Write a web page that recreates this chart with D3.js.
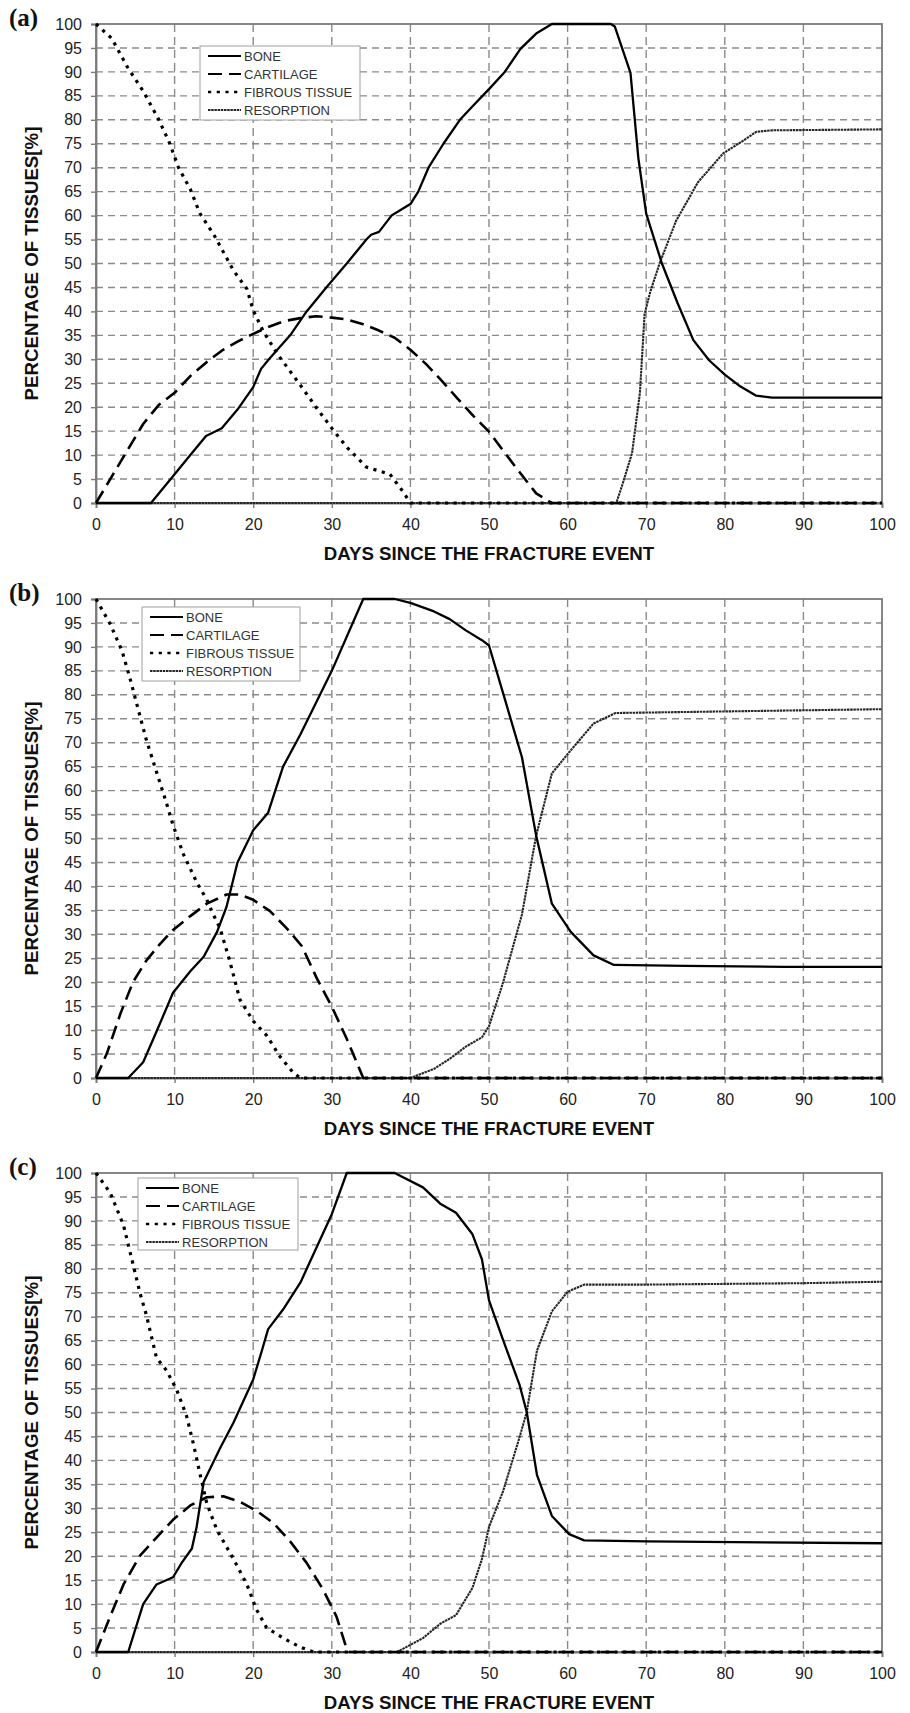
<!DOCTYPE html>
<html>
<head>
<meta charset="utf-8">
<script src="https://cdn.jsdelivr.net/npm/d3@7"></script>
<style>
body { margin: 0; background: #fff; }
svg { display: block; }
</style>
</head>
<body>
<div id="chart"></div>
<script>
// axis ticks and labels
const dayTicks = d3.range(0, 101, 10);
const pctTicks = d3.range(0, 101, 5);
const legendNames = ["BONE", "CARTILAGE", "FIBROUS TISSUE", "RESORPTION"];
const panelNames = ["(a)", "(b)", "(c)"];
const xTitle = "DAYS SINCE THE FRACTURE EVENT";
const yTitle = "PERCENTAGE OF TISSUES[%]";

// panel (a): [day, percent]
const boneA = [[0,0],[7,0],[10,6],[12,10],[14,14],[16,15.6],[18,19.5],[20,24.2],[21,28],[22,30],[24.7,35],[26.8,40],[29.3,45],[31.9,50],[34.4,55],[35,56],[36,56.6],[37.6,60],[40,62.4],[41,65],[42.3,70],[44.2,75],[46.3,80],[48,83],[50,86.4],[52,90],[54,94.8],[56,98],[58,100],[65.5,100],[66,99.5],[68,89.8],[69,72],[70,60.4],[72,50],[74,41.7],[76,34],[78,29.8],[80,26.8],[82,24.3],[84,22.4],[86,22],[100,22]];
const cartA = [[0,0],[2,5.5],[4,11],[6,16.5],[8,20.5],[10,23],[12,26.5],[14,29.3],[16,31.8],[18,33.7],[20,35.3],[22,36.8],[24,38],[26,38.6],[28,39],[30,38.7],[32,38.3],[34,37.3],[36,36],[38,34.5],[40,32],[42,29],[44,25.5],[46,21.8],[48,18.2],[50,14.9],[52,10.5],[54,6.2],[56,2],[58,0],[100,0]];
const fibA = [[0,100],[2,97],[4,91],[6,86],[8,80],[9.4,75],[10.5,70],[12,65.5],[13.2,60.5],[15,56],[17.5,48.5],[19.2,44.7],[20,40.2],[21.3,35.8],[23,31.3],[26,24.6],[28,20],[30,15.6],[32,11.5],[34.4,7.5],[37.4,6],[39,2.5],[40,0],[100,0]];
const resA = [[0,0],[66.2,0],[67,4],[68.2,10.4],[69.2,23],[69.8,39.5],[70.5,44],[71.7,50],[73.8,58.9],[76.6,67],[79.8,73],[82.3,75.6],[84,77.5],[86,77.8],[100,78]];

// panel (b)
const boneB = [[0,0],[4.1,0],[6,3.3],[7.7,9.7],[9.8,17.8],[12,22.3],[13.7,25.3],[15.4,30.5],[16.6,35.7],[18,45],[20,51.7],[21.9,55.4],[23.8,65],[26,71.7],[30,85],[34,100],[38,100],[40,99.2],[43,97.4],[45,95.8],[47,93.5],[49.1,91.4],[50,90.3],[51.8,80.3],[54.2,66.9],[56,50.6],[58,36.4],[60.4,30.5],[63.3,25.6],[65.9,23.6],[75,23.4],[87.5,23.2],[100,23.2]];
const cartB = [[0,0],[1.4,5.2],[3.1,13.4],[4.7,20],[6.4,24.5],[8.1,27.9],[9.8,30.9],[12,33.8],[14.1,36.4],[16.6,38.3],[18.3,38.3],[20,37.2],[22.1,34.9],[24.3,31.2],[26.2,27.5],[28.1,20.8],[30,14.9],[31.9,8.2],[34,0],[100,0]];
const fibB = [[0,100],[1.8,94.8],[3.3,89.2],[4.3,83.6],[5.2,78],[6.4,70.6],[7.7,63.9],[9,57.2],[9.8,52.8],[11.1,46.8],[12.8,40.9],[14.1,37.2],[14.9,34.2],[15.8,31.2],[17,24.5],[18.3,16.4],[20,11.9],[21.7,8.9],[23.4,4.5],[25.1,1.1],[26,0],[100,0]];
const resB = [[0,0],[40,0],[43,1.9],[45,4],[47,6.5],[49.1,8.5],[50,10.8],[51.8,20],[54.2,34.2],[56,50.6],[58,63.6],[60.4,68.4],[63.3,74],[66.1,76.2],[100,77]];

// panel (c)
const boneC = [[0,0],[4.1,0],[6,10],[7.7,14.1],[9.8,15.6],[10.9,18.6],[12.2,21.6],[12.8,26.1],[13.7,35.5],[15.8,42.6],[17.5,47.9],[20,56.9],[21.1,62.9],[21.9,67.4],[23.8,71.5],[26,77.1],[30,91.4],[31.9,100],[38,100],[41.6,97],[43.8,93.6],[45.8,91.7],[47.9,87.2],[49.1,82],[50,73.4],[51.8,65.1],[53.9,55.7],[54.8,50.1],[56.1,37],[58,28.4],[60.2,24.6],[62.1,23.3],[70,23.1],[100,22.7]];
const cartC = [[0,0],[1.8,7.4],[3.5,14.1],[5.6,20.1],[7.7,23.9],[9.8,27.6],[12,30.6],[14.1,32.3],[16.2,32.5],[18.3,31.4],[20.4,29.5],[22.6,26.9],[24.7,23.1],[26.8,18.6],[28.9,13],[30.6,7.4],[31.9,0.6],[32.3,0],[100,0]];
const fibC = [[0,100],[1.8,95.9],[3.5,89.1],[4.5,82.4],[5.6,74.9],[6.4,70.4],[7.7,61.4],[9,58.7],[10.3,54.6],[11.5,49.4],[12.4,43.4],[13.2,37.4],[14.1,31],[15.4,25.4],[17.5,19.4],[19.2,14.1],[20.4,8.9],[21.7,5.1],[23.8,2.9],[26,1],[27.7,0],[100,0]];
const resC = [[0,0],[38.3,0],[41.6,2.9],[43.8,5.9],[45.8,7.7],[47.9,13.4],[49.1,19.4],[50,26.1],[51.8,33.6],[53.9,44.9],[54.8,50.1],[56.1,62.9],[58,71.1],[60,75.2],[62.1,76.7],[70,76.7],[90,77],[100,77.3]];

const panelSeries = [
    [boneA, cartA, fibA, resA],
    [boneB, cartB, fibB, resB],
    [boneC, cartC, fibC, resC]
];

// layout
const width = 910, height = 1713;
const left = 96, right = 882, plotH = 479;
const tops = [24, 599, 1173];
const legendBox = [
    {x: 200, y: 22, w: 160, h: 74},
    {x: 142, y: 8, w: 158, h: 74},
    {x: 138, y: 5, w: 160, h: 72}
];
const legendRows = [10, 28, 46, 64];
const FONT = "'Liberation Sans', Arial, sans-serif";

const styles = [
    {stroke: "#000", w: 2.3, dash: null},
    {stroke: "#000", w: 2.6, dash: "14,7"},
    {stroke: "#000", w: 3.2, dash: "3.2,5.5"},
    {stroke: "#262626", w: 2.1, dash: "2.5,0.7"}
];

const svg = d3.select("#chart").append("svg")
    .attr("width", width)
    .attr("height", height);

const x = d3.scaleLinear().domain([0, 100]).range([left, right]);

panelSeries.forEach((series, i) => {
    const top = tops[i];
    const y = d3.scaleLinear().domain([0, 100]).range([top + plotH, top]);
    const g = svg.append("g");

    // dashed grid
    g.append("g").selectAll("line")
        .data(pctTicks.filter(v => v > 0 && v < 100))
        .join("line")
        .attr("x1", left).attr("x2", right)
        .attr("y1", d => y(d)).attr("y2", d => y(d))
        .attr("stroke", "#8a8a8a").attr("stroke-width", 1.4)
        .attr("stroke-dasharray", "7,5");
    g.append("g").selectAll("line")
        .data(dayTicks.filter(v => v > 0 && v < 100))
        .join("line")
        .attr("x1", d => x(d)).attr("x2", d => x(d))
        .attr("y1", top).attr("y2", top + plotH)
        .attr("stroke", "#8a8a8a").attr("stroke-width", 1.4)
        .attr("stroke-dasharray", "8,5");

    g.append("rect")
        .attr("x", left).attr("y", top)
        .attr("width", right - left).attr("height", plotH)
        .attr("fill", "none").attr("stroke", "#7a7a7a").attr("stroke-width", 1.8);

    const yAxis = g.append("g")
        .attr("transform", `translate(${left},0)`)
        .call(d3.axisLeft(y).tickValues(pctTicks).tickSize(5).tickPadding(9));
    const xAxis = g.append("g")
        .attr("transform", `translate(0,${top + plotH})`)
        .call(d3.axisBottom(x).tickValues(dayTicks).tickSize(5).tickPadding(11));

    [yAxis, xAxis].forEach(a => {
        a.attr("font-family", FONT).attr("font-size", 16);
        a.select(".domain").attr("stroke", "#7a7a7a").attr("stroke-width", 1.8);
        a.selectAll(".tick line").attr("stroke", "#7a7a7a").attr("stroke-width", 1.4);
        a.selectAll(".tick text").attr("fill", "#222");
    });

    // series lines
    const line = d3.line().x(d => x(d[0])).y(d => y(d[1]));
    [3, 2, 1, 0].forEach(k => {
        g.append("path")
            .datum(series[k])
            .attr("d", line)
            .attr("fill", "none")
            .attr("stroke", styles[k].stroke)
            .attr("stroke-width", styles[k].w)
            .attr("stroke-dasharray", styles[k].dash)
            .attr("stroke-linejoin", "round");
    });

    // legend
    const lb = legendBox[i];
    const lg = g.append("g").attr("transform", `translate(${lb.x},${top + lb.y})`);
    lg.append("rect")
        .attr("width", lb.w).attr("height", lb.h)
        .attr("fill", "#fff").attr("stroke", "#a0a0a0").attr("stroke-width", 1);
    legendNames.forEach((name, k) => {
        lg.append("line")
            .attr("x1", 8).attr("x2", 41)
            .attr("y1", legendRows[k]).attr("y2", legendRows[k])
            .attr("stroke", styles[k].stroke)
            .attr("stroke-width", styles[k].w * 0.85)
            .attr("stroke-dasharray", styles[k].dash);
        lg.append("text")
            .attr("x", 44).attr("y", legendRows[k])
            .attr("dy", "0.36em")
            .attr("font-family", FONT).attr("font-size", 13)
            .attr("fill", "#333")
            .text(name);
    });

    // titles
    g.append("text")
        .attr("x", (left + right) / 2).attr("y", top + plotH + 57)
        .attr("text-anchor", "middle")
        .attr("font-family", FONT).attr("font-size", 18.7).attr("font-weight", "bold")
        .attr("fill", "#111")
        .text(xTitle);
    g.append("text")
        .attr("transform", `translate(31,${top + plotH / 2}) rotate(-90)`)
        .attr("text-anchor", "middle")
        .attr("dy", "0.36em")
        .attr("font-family", FONT).attr("font-size", 18.7).attr("font-weight", "bold")
        .attr("fill", "#111")
        .text(yTitle);
    g.append("text")
        .attr("x", 9).attr("y", top + 2)
        .attr("font-family", "'Liberation Serif', 'Times New Roman', serif")
        .attr("font-size", 25).attr("font-weight", "bold")
        .attr("fill", "#111")
        .text(panelNames[i]);
});
</script>
</body>
</html>
